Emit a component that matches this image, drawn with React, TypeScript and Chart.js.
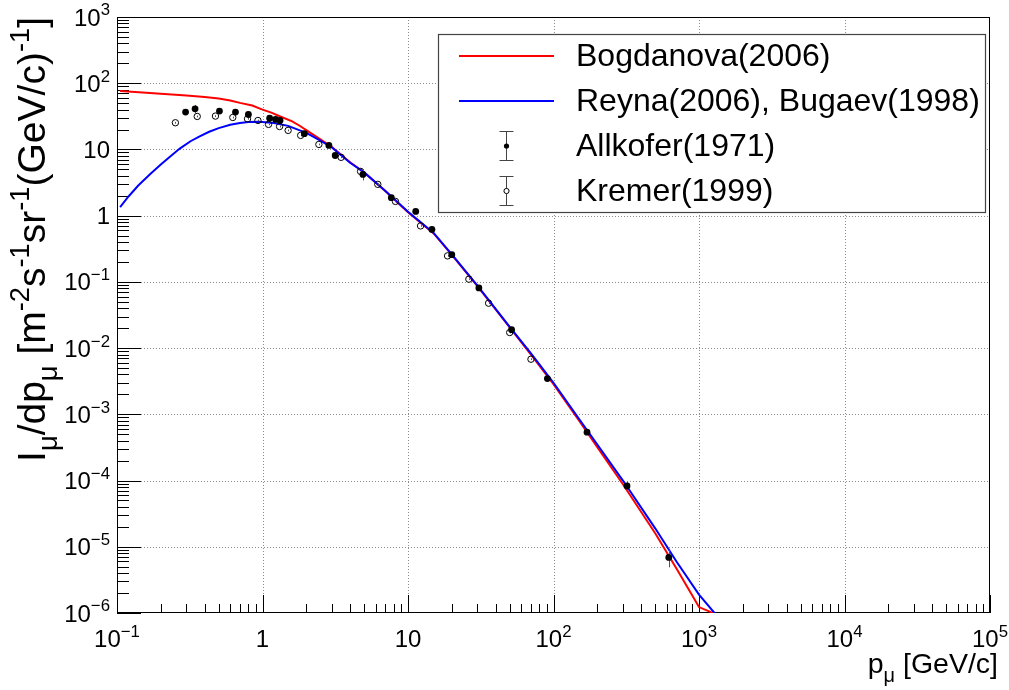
import React, { useEffect, useRef } from 'react';
import { Chart, registerables } from 'chart.js';

Chart.register(...registerables);

// ---------------- data ----------------
const bogdanovaP = [0.105, 0.15, 0.2, 0.3, 0.4, 0.5, 0.6, 0.7, 0.85, 1, 1.15, 1.3, 1.6, 1.8, 2, 2.5, 3, 4, 5, 7, 10, 15, 20, 30, 50, 70, 100, 150, 200, 300, 500, 700, 1000, 1500];
const bogdanovaI = [76, 72.5, 69.5, 65.5, 62, 59, 55, 50.5, 46, 40, 36, 32, 26.5, 22.8, 19.6, 14.2, 10.9, 6.4, 4.5, 2.33, 1.13, 0.54, 0.255, 0.086, 0.0205, 0.008, 0.00285, 8.0e-4, 3.2e-4, 8.8e-5, 1.6e-5, 4.7e-6, 1.23e-6, 8.4e-7];

const reynaP = [0.105, 0.12, 0.14, 0.17, 0.2, 0.23, 0.27, 0.32, 0.37, 0.43, 0.5, 0.6, 0.7, 0.8, 0.95, 1.2, 1.5, 2, 2.5, 3, 4, 5, 7, 10, 15, 20, 30, 50, 70, 100, 150, 200, 300, 500, 700, 1000, 1500];
const reynaI = [1.35, 1.95, 2.85, 4.3, 5.9, 7.7, 10.3, 13.3, 15.8, 18.5, 21, 23.6, 25.1, 25.9, 26.1, 25, 22.7, 17.8, 13.6, 10.7, 6.3, 4.5, 2.35, 1.15, 0.55, 0.26, 0.088, 0.021, 0.0083, 0.003, 8.5e-4, 3.5e-4, 1.0e-4, 1.9e-5, 6.0e-6, 1.9e-6, 6.6e-7];

const allkoferP = [0.296, 0.344, 0.506, 0.652, 0.8, 1.12, 1.23, 1.32, 1.94, 2.86, 3.16, 4.9, 7.68, 11.3, 14.6, 20.0, 30.7, 51.5, 90.8, 170, 320, 620];
const allkoferI = [36.7, 41, 38, 36.7, 33.7, 29.7, 28.4, 27.4, 17.3, 11.5, 8.1, 4.2, 1.87, 1.16, 0.62, 0.258, 0.081, 0.019, 0.00347, 5.37e-4, 8.3e-5, 6.9e-6];
const allkoferErr = [1.5, 6, 1.5, 1.5, 1.3, 1.2, 1.1, 1.1, 0.7, 0.45, 0.35, 0.8, 0.08, 0.05, 0.03, 0.011, 0.0035, 0.001, 0.00018, 3e-5, 1.3e-5, 2.0e-6];

const kremerP = [0.252, 0.356, 0.475, 0.625, 0.789, 0.93, 1.1, 1.31, 1.5, 1.83, 2.44, 3.47, 4.72, 6.2, 8.2, 12.2, 18.7, 26.2, 35.8, 50, 70];
const kremerI = [25.3, 31.5, 31.9, 30.4, 29, 27.4, 23.9, 22.2, 19.4, 16.3, 11.9, 7.6, 4.66, 2.97, 1.64, 0.7, 0.247, 0.11, 0.0477, 0.0172, 0.0068];
const kremerErr = [0.8, 1, 1, 1, 0.9, 0.8, 0.7, 0.7, 0.6, 0.5, 0.35, 0.22, 0.14, 0.09, 0.05, 0.02, 0.007, 0.003, 0.0014, 0.0005, 0.0002];

const legendLabels = ['Bogdanova(2006)', 'Reyna(2006), Bugaev(1998)', 'Allkofer(1971)', 'Kremer(1999)'];

const xDecades = [0.1, 1, 10, 100, 1000, 10000, 100000];
const xTickLabels: [string, string][] = [['10', '\u22121'], ['1', ''], ['10', ''], ['10', '2'], ['10', '3'], ['10', '4'], ['10', '5']];
const yDecades = [1e-6, 1e-5, 1e-4, 1e-3, 1e-2, 1e-1, 1, 10, 100, 1000];
const yTickLabels: [string, string][] = [['10', '\u22126'], ['10', '\u22125'], ['10', '\u22124'], ['10', '\u22123'], ['10', '\u22122'], ['10', '\u22121'], ['1', ''], ['10', ''], ['10', '2'], ['10', '3']];

const FONT = '"Liberation Sans", Arial, Helvetica, sans-serif';

type Seg = { t: string; k: 'n' | 'sub' | 'sup' };
const yTitle: Seg[] = [
  { t: 'I', k: 'n' }, { t: '\u03bc', k: 'sub' }, { t: '/dp', k: 'n' }, { t: '\u03bc', k: 'sub' },
  { t: ' [m', k: 'n' }, { t: '-2', k: 'sup' }, { t: 's', k: 'n' }, { t: '-1', k: 'sup' },
  { t: 'sr', k: 'n' }, { t: '-1', k: 'sup' }, { t: '(GeV/c)', k: 'n' }, { t: '-1', k: 'sup' }, { t: ']', k: 'n' },
];
const xTitle: Seg[] = [{ t: 'p', k: 'n' }, { t: '\u03bc', k: 'sub' }, { t: ' [GeV/c]', k: 'n' }];

function segWidth(ctx: CanvasRenderingContext2D, segs: Seg[], size: number) {
  let w = 0;
  for (const s of segs) {
    ctx.font = `${s.k === 'n' ? size : size * 0.7}px ${FONT}`;
    w += ctx.measureText(s.t).width;
  }
  return w;
}

function drawSegs(ctx: CanvasRenderingContext2D, segs: Seg[], x: number, y: number, size: number) {
  let cx = x;
  ctx.textAlign = 'left';
  ctx.textBaseline = 'alphabetic';
  for (const s of segs) {
    const fs = s.k === 'n' ? size : size * 0.7;
    ctx.font = `${fs}px ${FONT}`;
    const dy = s.k === 'sub' ? size * 0.32 : s.k === 'sup' ? -size * 0.42 : 0;
    ctx.fillText(s.t, cx, y + dy);
    cx += ctx.measureText(s.t).width;
  }
}

function labelSegs(l: [string, string]): Seg[] {
  const s: Seg[] = [{ t: l[0], k: 'n' }];
  if (l[1]) s.push({ t: l[1], k: 'sup' });
  return s;
}

const rootPlugin = {
  id: 'rootStyle',
  beforeDatasetsDraw(chart: any) {
    const ctx: CanvasRenderingContext2D = chart.ctx;
    const { left, right, top, bottom } = chart.chartArea;
    const xs = chart.scales.x;
    const ys = chart.scales.y;
    ctx.save();
    // grid
    ctx.strokeStyle = '#8c8c8c';
    ctx.lineWidth = 1;
    ctx.setLineDash([1, 2]);
    for (const v of xDecades) {
      const px = Math.round(xs.getPixelForValue(v)) + 0.5;
      if (px <= left + 1 || px >= right - 1) continue;
      ctx.beginPath(); ctx.moveTo(px, top); ctx.lineTo(px, bottom); ctx.stroke();
    }
    for (const v of yDecades) {
      const py = Math.round(ys.getPixelForValue(v)) + 0.5;
      if (py <= top + 1 || py >= bottom - 1) continue;
      ctx.beginPath(); ctx.moveTo(left, py); ctx.lineTo(right, py); ctx.stroke();
    }
    ctx.setLineDash([]);
    // ticks
    ctx.strokeStyle = '#000';
    ctx.beginPath();
    for (let d = 0; d < xDecades.length; d++) {
      const base = xDecades[d];
      for (let m = 1; m <= 9; m++) {
        const v = base * m;
        if (v > xDecades[xDecades.length - 1]) break;
        const px = Math.round(xs.getPixelForValue(v)) + 0.5;
        const len = m === 1 ? 18 : 9;
        ctx.moveTo(px, bottom); ctx.lineTo(px, bottom - len);
      }
    }
    for (let d = 0; d < yDecades.length; d++) {
      const base = yDecades[d];
      for (let m = 1; m <= 9; m++) {
        const v = base * m;
        if (v > yDecades[yDecades.length - 1] * 1.0001) break;
        const py = Math.round(ys.getPixelForValue(v)) + 0.5;
        const len = m === 1 ? 24 : 12;
        ctx.moveTo(left, py); ctx.lineTo(left + len, py);
      }
    }
    ctx.stroke();
    // frame
    ctx.lineWidth = 1;
    ctx.strokeRect(left + 0.5, top + 0.5, right - left - 1, bottom - top - 1);
    ctx.restore();
  },
  beforeDatasetDraw(chart: any, args: any) {
    const ds = chart.data.datasets[args.index];
    if (!ds.errors) return;
    const ctx: CanvasRenderingContext2D = chart.ctx;
    const ys = chart.scales.y;
    ctx.save();
    ctx.strokeStyle = '#555';
    ctx.lineWidth = 1;
    ctx.beginPath();
    args.meta.data.forEach((pt: any, i: number) => {
      const val = ds.data[i].y;
      const e = ds.errors[i];
      const x = Math.round(pt.x) + 0.5;
      ctx.moveTo(x, ys.getPixelForValue(val + e));
      ctx.lineTo(x, ys.getPixelForValue(Math.max(val - e, 1e-12)));
    });
    ctx.stroke();
    ctx.restore();
  },
  afterDraw(chart: any) {
    const ctx: CanvasRenderingContext2D = chart.ctx;
    const { left, top } = chart.chartArea;
    const xs = chart.scales.x;
    const ys = chart.scales.y;
    ctx.save();
    ctx.fillStyle = '#000';
    const ts = 24;
    // x tick labels
    xDecades.forEach((v, i) => {
      const segs = labelSegs(xTickLabels[i]);
      const w = segWidth(ctx, segs, ts);
      drawSegs(ctx, segs, xs.getPixelForValue(v) - w / 2, 647, ts);
    });
    // y tick labels
    yDecades.forEach((v, i) => {
      const segs = labelSegs(yTickLabels[i]);
      const w = segWidth(ctx, segs, ts);
      drawSegs(ctx, segs, left - 7 - w, ys.getPixelForValue(v) + 8.5, ts);
    });
    // x title
    const xts = 28.5;
    const xw = segWidth(ctx, xTitle, xts);
    drawSegs(ctx, xTitle, 998 - xw, 673, xts);
    // y title
    const yts = 39;
    const yw = segWidth(ctx, yTitle, yts);
    ctx.save();
    ctx.translate(45, top);
    ctx.rotate(-Math.PI / 2);
    drawSegs(ctx, yTitle, -yw, 0, yts);
    ctx.restore();

    // legend
    const lx = 438, ly = 34, lw = 547, lh = 178;
    ctx.fillStyle = '#fff';
    ctx.fillRect(lx, ly, lw, lh);
    ctx.strokeStyle = '#444';
    ctx.lineWidth = 1.2;
    ctx.strokeRect(lx + 0.5, ly + 0.5, lw, lh);
    const rows = [56, 101, 146, 191];
    const dsets = chart.data.datasets;
    const byLabel = (l: string) => dsets.find((d: any) => d.label === l);
    legendLabels.forEach((lab, i) => {
      const cy = rows[i];
      const d = byLabel(lab);
      if (d.showLine) {
        ctx.strokeStyle = d.borderColor;
        ctx.lineWidth = 2;
        ctx.beginPath(); ctx.moveTo(459, cy); ctx.lineTo(554, cy); ctx.stroke();
      } else {
        const cx = 506.5;
        ctx.strokeStyle = '#444';
        ctx.lineWidth = 1;
        ctx.beginPath();
        ctx.moveTo(cx, cy - 14); ctx.lineTo(cx, cy + 14);
        ctx.moveTo(cx - 7, cy - 14.5); ctx.lineTo(cx + 7, cy - 14.5);
        ctx.moveTo(cx - 7, cy + 14.5); ctx.lineTo(cx + 7, cy + 14.5);
        ctx.stroke();
        ctx.beginPath();
        ctx.arc(cx, cy, 2.6, 0, Math.PI * 2);
        if (d.pointBackgroundColor === '#000') { ctx.fillStyle = '#000'; ctx.fill(); }
        else { ctx.fillStyle = '#fff'; ctx.fill(); ctx.strokeStyle = '#000'; ctx.stroke(); }
      }
      ctx.fillStyle = '#000';
      ctx.font = `32px ${FONT}`;
      ctx.textAlign = 'left';
      ctx.textBaseline = 'middle';
      ctx.fillText(lab, 576, cy + 1);
    });
    ctx.restore();
  },
};

export default function App() {
  const ref = useRef<HTMLCanvasElement | null>(null);
  useEffect(() => {
    if (!ref.current) return;
    const toXY = (xs: number[], ys: number[]) => xs.map((x, i) => ({ x, y: ys[i] }));
    const chart = new Chart(ref.current, {
      type: 'scatter',
      data: {
        datasets: [
          {
            label: legendLabels[2],
            data: toXY(allkoferP, allkoferI),
            showLine: false,
            pointRadius: 3.4,
            pointBackgroundColor: '#000',
            pointBorderColor: '#000',
            pointBorderWidth: 0,
            errors: allkoferErr,
          } as any,
          {
            label: legendLabels[3],
            data: toXY(kremerP, kremerI),
            showLine: false,
            pointRadius: 3.2,
            pointBackgroundColor: 'rgba(255,255,255,0)',
            pointBorderColor: '#000',
            pointBorderWidth: 1,
            errors: kremerErr,
          } as any,
          {
            label: legendLabels[1],
            data: toXY(reynaP, reynaI),
            showLine: true,
            borderColor: '#0000ff',
            borderWidth: 2,
            pointRadius: 0,
            tension: 0,
          },
          {
            label: legendLabels[0],
            data: toXY(bogdanovaP, bogdanovaI),
            showLine: true,
            borderColor: '#ff0000',
            borderWidth: 2,
            pointRadius: 0,
            tension: 0,
          },
        ],
      },
      options: {
        animation: false,
        responsive: false,
        devicePixelRatio: 1,
        layout: { padding: { left: 117, top: 17, right: 19, bottom: 77 } },
        scales: {
          x: { type: 'logarithmic', min: 0.1, max: 1e5, display: false },
          y: { type: 'logarithmic', min: 1e-6, max: 1e3, display: false },
        },
        plugins: { legend: { display: false }, tooltip: { enabled: false } },
        events: [],
      },
      plugins: [rootPlugin],
    });
    return () => chart.destroy();
  }, []);
  return (
    <div style={{ position: 'absolute', left: 0, top: 0, width: 1009, height: 690, background: '#fff' }}>
      <canvas ref={ref} width={1009} height={690} style={{ width: 1009, height: 690, display: 'block' }} />
    </div>
  );
}
